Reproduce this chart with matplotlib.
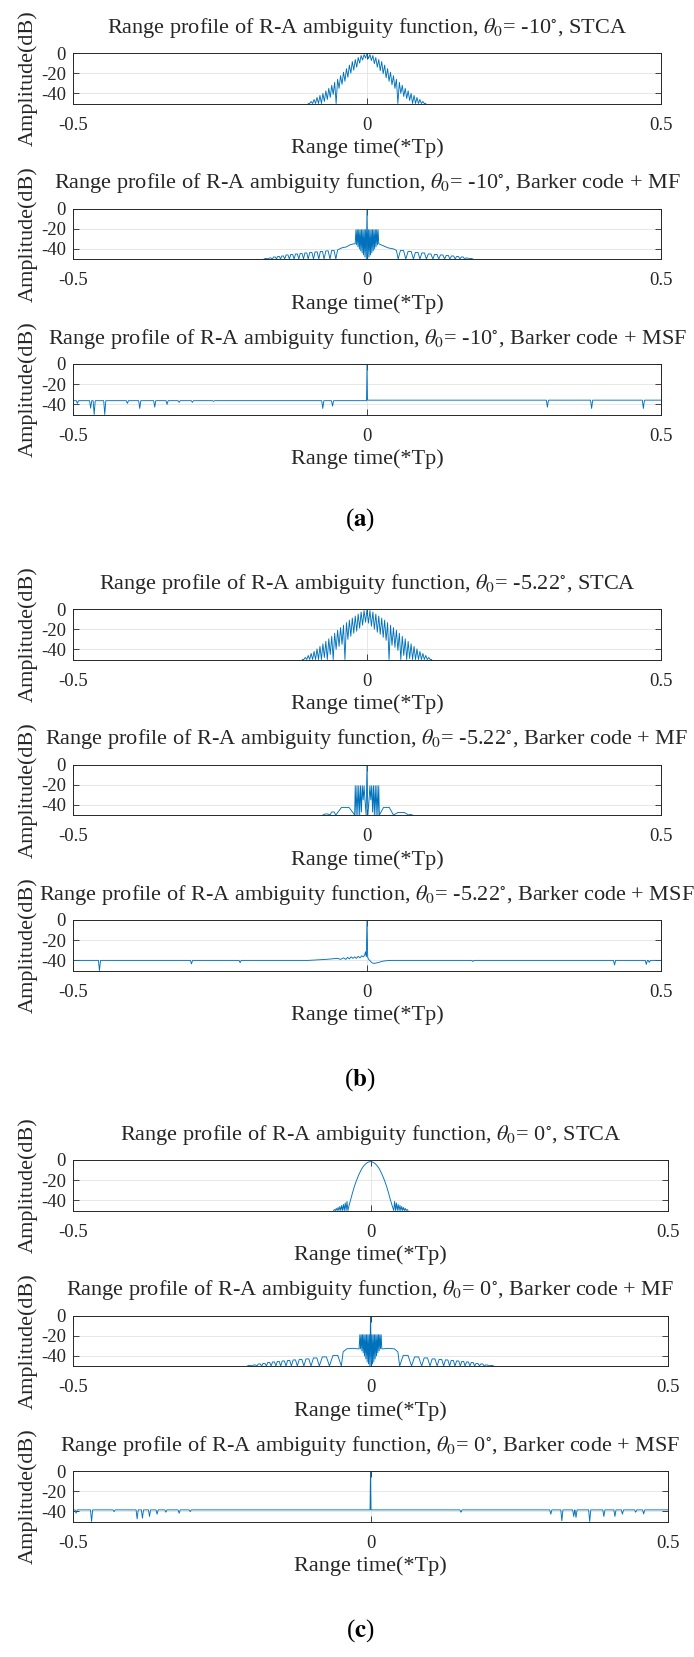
import numpy as np
import matplotlib
matplotlib.use("Agg")
import matplotlib.pyplot as plt

plt.rcParams['font.family'] = ['Liberation Serif', 'DejaVu Serif']
plt.rcParams['mathtext.fontset'] = 'stix'

# ---------------- data (dB values) ----------------
# STCA profiles: alternating peak / trough samples across the main lobe
a1_span = (-0.10, 0.10)
a1_db = [-50, -50, -48, -50, -46, -50, -44, -50, -42, -50,
         -40, -48, -37.5, -46, -35, -44, -32, -41, -29, -50,
         -26, -35, -22.5, -31, -19, -28, -15.5, -24, -12, -20,
         -8.5, -17, -6.5, -14, -4.5, -10, -2.5, -7, -1.5, -5,
         -0.5,
         -5.5, -1.5, -7.5, -2.5, -10.5, -4.5, -14, -6.5, -17.5, -8.5,
         -20.5, -12, -24.5, -15.5, -28, -19, -31.5, -22.5, -35, -26,
         -50, -29, -40, -32, -43, -35, -45, -37.5, -47, -40,
         -50, -42, -50, -44, -50, -46, -50, -48, -50, -50]

b1_span = (-0.11, 0.11)
b1_db = [-50, -50, -48, -50, -46, -50, -44, -50, -42, -50,
         -39.5, -50, -37, -50, -34.5, -48, -32, -50, -29.5, -45,
         -27, -50, -24, -40, -21, -37, -18.5, -35, -16, -50,
         -13.5, -30, -11, -27, -9, -24, -7, -22, -5, -19,
         -3, -16, -1.5, -13, -0.5,
         -14, -1.5, -17, -3, -20, -5, -23, -7, -25, -9,
         -28, -11, -31, -13.5, -50, -16, -36, -18.5, -38, -21,
         -41, -24, -50, -27, -46, -29.5, -50, -32, -49, -34.5,
         -50, -37, -50, -39.5, -50, -42, -50, -44, -50, -46,
         -50, -48, -50, -50]

c1_x = [-0.0620, -0.0605, -0.0590, -0.0575, -0.0560, -0.0545, -0.0530, -0.0515,
        -0.0500, -0.0485, -0.0470, -0.0455, -0.0440, -0.0425, -0.0410, -0.0395,
        -0.0380, -0.0360, -0.0330, -0.0300, -0.0270, -0.0240, -0.0210, -0.0180,
        -0.0150, -0.0120, -0.0090, -0.0060, -0.0030, 0.0,
        0.0030, 0.0060, 0.0090, 0.0120, 0.0150, 0.0180, 0.0210, 0.0240,
        0.0270, 0.0300, 0.0330, 0.0360, 0.0390,
        0.0405, 0.0420, 0.0435, 0.0450, 0.0465, 0.0480, 0.0495, 0.0510,
        0.0525, 0.0540, 0.0555, 0.0570, 0.0585, 0.0600, 0.0615, 0.0630]
c1_db = [-50, -49, -50, -48, -50, -47, -50, -46,
         -50, -45, -50, -44, -50, -42.5, -50, -41,
         -50, -45, -38.5, -32, -26, -21, -16.5, -12.5,
         -9, -6.3, -4.3, -2.8, -1.9, -1.6,
         -1.9, -2.8, -4.3, -6.3, -9, -12.5, -16.5, -21,
         -26, -32, -38.5, -44.5, -50,
         -41, -50, -42.5, -50, -44, -50, -45, -50,
         -46, -50, -47, -50, -48, -50, -49, -50]

# Barker code + MF: side lobes (zero positions and lobe peaks), shoulders, centre block
a2_zeros_l = [-0.175, -0.168, -0.161, -0.154, -0.147, -0.140, -0.132, -0.124,
              -0.116, -0.108, -0.100, -0.091, -0.082, -0.073, -0.063, -0.053]
a2_peaks_l = [-49.5, -49, -48, -47.5, -47, -46, -45.5, -45,
              -44.5, -44, -43.5, -43, -42.5, -42, -41.5]
a2_sh_l_x = [-0.050, -0.043, -0.035, -0.029, -0.023, -0.020]
a2_sh_l_db = [-41, -39, -38, -36, -35, -35]
a2_block_db = [-34, -21, -36, -21, -38, -21, -40, -21, -42, -21, -44, -21, -46, -21,
               -48, -21, -50, 0, -50, -21, -48, -21, -46, -21, -44, -21, -42, -21,
               -40, -21, -38, -21, -36, -21, -34]
a2_sh_r_x = [0.020, 0.028, 0.036, 0.045, 0.050]
a2_sh_r_db = [-35, -37, -39, -40, -41.5]
a2_zeros_r = [0.053, 0.066, 0.079, 0.090, 0.101, 0.112, 0.122, 0.132,
              0.141, 0.150, 0.158, 0.166, 0.173, 0.180]
a2_peaks_r = [-41.5, -42.5, -43.5, -44, -45, -45.5, -46, -46.5,
              -47, -47.5, -48, -49, -49.5]

b2_zeros_l = [-0.075, -0.063, -0.053, -0.021]
b2_peaks_l = [-49, -47, -42.5]
b2_block_x = [-0.0200, -0.0185, -0.0170, -0.0155, -0.0140, -0.0125, -0.0110, -0.0095,
              -0.0080, -0.0065, -0.0050, -0.0035, -0.0015, 0.0, 0.0015, 0.0035,
              0.0050, 0.0065, 0.0080, 0.0095, 0.0110, 0.0125, 0.0140, 0.0155,
              0.0170, 0.0185, 0.0200]
b2_block_db = [-21, -50, -21, -50, -21, -50, -21, -47, -21, -35, -21, -35, -50, 0,
               -50, -35, -21, -35, -21, -47, -21, -50, -21, -50, -21, -50, -21]
b2_zeros_r = [0.021, 0.045, 0.071, 0.077]
b2_peaks_r = [-42.5, -47.5, -49.5]

c2_zeros_l = [-0.207, -0.199, -0.191, -0.183, -0.175, -0.167, -0.159, -0.151,
              -0.142, -0.133, -0.123, -0.112, -0.100, -0.086, -0.069, -0.049]
c2_peaks_l = [-49.5, -49, -48, -47.5, -46.5, -46, -45.5, -45,
              -44.5, -44, -43.5, -43, -42, -41, -39.5]
c2_sh_l_x = [-0.046, -0.040, -0.030, -0.022, -0.019]
c2_sh_l_db = [-36, -33, -32.5, -33, -33]
c2_block_db = [-31, -19, -33, -19, -35, -19, -37, -19, -40, -19, -43, -19, -46, -19,
               -48, -19, -50, 0, -50, -19, -48, -19, -46, -19, -43, -19, -40, -19,
               -37, -19, -35, -19, -33, -19, -31]
c2_sh_r_x = [0.019, 0.022, 0.030, 0.040, 0.046]
c2_sh_r_db = [-33, -33, -32.5, -33, -36]
c2_zeros_r = [0.049, 0.069, 0.086, 0.100, 0.112, 0.123, 0.133, 0.142,
              0.151, 0.159, 0.167, 0.175, 0.183, 0.191, 0.199, 0.207]
c2_peaks_r = [-39.5, -41, -42, -43, -43.5, -44, -44.5, -45,
              -45.5, -46, -46.5, -47.5, -48, -49, -49.5]

# Barker code + MSF: flat floor with narrow dips and a single 0 dB peak
a3_floor = (-36.3, -35.8)
a3_dip_x = [-0.4925, -0.470, -0.464, -0.446, -0.4075, -0.3865, -0.361, -0.340,
            -0.3195, -0.297, -0.261, -0.0752, -0.0586, 0.3068, 0.382, 0.470]
a3_dip_db = [-39, -43.7, -50, -50, -39, -44, -42.7, -40,
             -38, -38, -37, -44, -41.7, -42.7, -44, -44]

b3_floor = (-40.0, -40.0)
b3_dip_x = [-0.455, -0.2985, -0.2158, 0.180, 0.421, 0.475, 0.480]
b3_dip_db = [-50, -43.5, -42.3, -41, -44.6, -44, -42]
b3_mid_x = [-0.100, -0.085, -0.070, -0.060, -0.050, -0.045, -0.040, -0.036, -0.033,
            -0.030, -0.027, -0.024, -0.021, -0.018, -0.015, -0.012, -0.009, -0.006,
            -0.004, -0.0025, -0.0012, 0.0, 0.0012, 0.003, 0.006, 0.009, 0.012, 0.016,
            0.020, 0.025, 0.030, 0.040, 0.050]
b3_mid_db = [-40, -39.5, -39, -38.5, -38, -39, -37.5, -39, -37,
             -38.5, -36.5, -38, -36.5, -38, -36, -37.5, -35.5, -36.5,
             -34.5, -31.5, -36, 0, -37, -39, -41, -42.5, -43, -42.5,
             -42, -41, -40.5, -40, -40]

c3_floor = (-38.5, -38.5)
c3_dip_x = [-0.4948, -0.4688, -0.4309, -0.3922, -0.3833, -0.3714, -0.3587, -0.3439,
            -0.3216, -0.3030, 0.152, 0.303, 0.3216, 0.3416, 0.3454, 0.3684, 0.3922,
            0.4108, 0.4234, 0.4457, 0.4591]
c3_dip_db = [-41.8, -50, -40.2, -47.4, -46.7, -45, -42.8, -40.8,
             -41.8, -40.2, -40.8, -42.8, -49.3, -45, -46, -50, -45,
             -45, -42.8, -40.8, -42.5]

angles = ['-10', '-5.22', '0']
methods = ['STCA', 'Barker code + MF', 'Barker code + MSF']
group_labels = ['a', 'b', 'c']

# ---------------- helpers ----------------
W, H = 694, 1657
BLUE = '#0072BD'
TICK_FS = 13.5
LABEL_FS = 16


def span_curve(span, values):
    """Alternating samples spread evenly over the given span"""
    return np.linspace(span[0], span[1], len(values)), np.asarray(values, float)


def lobe_curve(zeros, peaks):
    """Side lobes: each lobe sits on -50 dB at its zeros with a flat top at its peak"""
    xs, ys = [], []
    for z0, z1, p in zip(zeros[:-1], zeros[1:], peaks):
        w = z1 - z0
        xs += [z0, z0 + 0.3 * w, z0 + 0.7 * w]
        ys += [-50, p, p]
    xs.append(zeros[-1])
    ys.append(-50)
    return xs, ys


def floor_curve(x0, x1, level, dip_x, dip_db, half=0.0018):
    """Flat floor with narrow downward dips"""
    xs, ys = [x0], [level]
    for dx, dd in sorted(zip(dip_x, dip_db)):
        if x0 < dx < x1:
            xs += [dx - half, dx, dx + half]
            ys += [level, dd, level]
    xs.append(x1)
    ys.append(level)
    return xs, ys


def msf_curve(floor, dip_x, dip_db):
    lx, ly = floor_curve(-0.5, -0.0008, floor[0], dip_x, dip_db)
    rx, ry = floor_curve(0.0008, 0.5, floor[1], dip_x, dip_db)
    return lx + [0.0] + rx, ly + [0.0] + ry


def mf_curve(zl, pl, shlx, shly, block_x, block_db, shrx, shry, zr, pr):
    lx, ly = lobe_curve(zl, pl)
    rx, ry = lobe_curve(zr, pr)
    return (lx + list(shlx) + list(block_x) + list(shrx) + rx,
            ly + list(shly) + list(block_db) + list(shry) + ry)


# ---------------- curves ----------------
curves = {}
curves[(0, 0)] = span_curve(a1_span, a1_db)
curves[(1, 0)] = span_curve(b1_span, b1_db)
curves[(2, 0)] = (np.array(c1_x), np.array(c1_db))

a2_bx, _ = span_curve((-0.020, 0.020), a2_block_db)
curves[(0, 1)] = mf_curve(a2_zeros_l, a2_peaks_l, a2_sh_l_x, a2_sh_l_db, a2_bx, a2_block_db,
                          a2_sh_r_x, a2_sh_r_db, a2_zeros_r, a2_peaks_r)
curves[(1, 1)] = mf_curve(b2_zeros_l, b2_peaks_l, [], [], b2_block_x, b2_block_db,
                          [], [], b2_zeros_r, b2_peaks_r)
c2_bx, _ = span_curve((-0.019, 0.019), c2_block_db)
curves[(2, 1)] = mf_curve(c2_zeros_l, c2_peaks_l, c2_sh_l_x, c2_sh_l_db, c2_bx, c2_block_db,
                          c2_sh_r_x, c2_sh_r_db, c2_zeros_r, c2_peaks_r)

curves[(0, 2)] = msf_curve(a3_floor, a3_dip_x, a3_dip_db)
lx, ly = floor_curve(-0.5, b3_mid_x[0], b3_floor[0], b3_dip_x, b3_dip_db)
rx, ry = floor_curve(b3_mid_x[-1], 0.5, b3_floor[1], b3_dip_x, b3_dip_db)
curves[(1, 2)] = (lx + b3_mid_x + rx, ly + b3_mid_db + ry)
curves[(2, 2)] = msf_curve(c3_floor, c3_dip_x, c3_dip_db)

# ---------------- layout (pixels) ----------------
group_top = [53, 609, 1160]
row_step = 155.5
ax_h = 50.5
ax_left = 73
ax_right = [661, 661, 668]
label_y = [520, 1080, 1631]

fig = plt.figure(figsize=(W / 100, H / 100), dpi=100)

for g in range(3):
    for r in range(3):
        top = group_top[g] + r * row_step
        ax = fig.add_axes([ax_left / W, 1 - (top + ax_h) / H,
                           (ax_right[g] - ax_left) / W, ax_h / H])
        x, y = curves[(g, r)]
        ax.plot(x, y, color=BLUE, lw=0.65)
        ax.set_xlim(-0.5, 0.5)
        ax.set_ylim(-50, 0)
        ax.set_xticks([-0.5, 0, 0.5])
        ax.set_xticklabels(['-0.5', '0', '0.5'])
        ax.set_yticks([-40, -20, 0])
        ax.set_yticklabels(['-40', '-20', '0'])
        ax.grid(True, color='#e3e3e3', lw=0.6)
        ax.set_axisbelow(True)
        ax.tick_params(direction='in', top=True, right=True, length=4, width=0.6,
                       color='#262626', labelcolor='#262626', labelsize=TICK_FS)
        ax.tick_params(axis='x', pad=9.5)
        ax.tick_params(axis='y', pad=5)
        for s in ax.spines.values():
            s.set_color('#262626')
            s.set_linewidth(0.7)
        title = (r'Range profile of R-A ambiguity function, $\theta_0$= '
                 + angles[g] + r'$^{\circ}$, ' + methods[r])
        ax.set_title(title, fontsize=LABEL_FS, color='#262626', pad=14.5)
        ax.set_xlabel('Range time(*Tp)', fontsize=LABEL_FS, color='#262626', labelpad=3.5)
        ax.set_ylabel('Amplitude(dB)', fontsize=LABEL_FS, color='#262626', labelpad=2)
    fig.text(360 / W, 1 - label_y[g] / H, r'($\mathbf{' + group_labels[g] + r'}$)',
             ha='center', va='center', fontsize=18)

fig.savefig('out.png', dpi=100)
